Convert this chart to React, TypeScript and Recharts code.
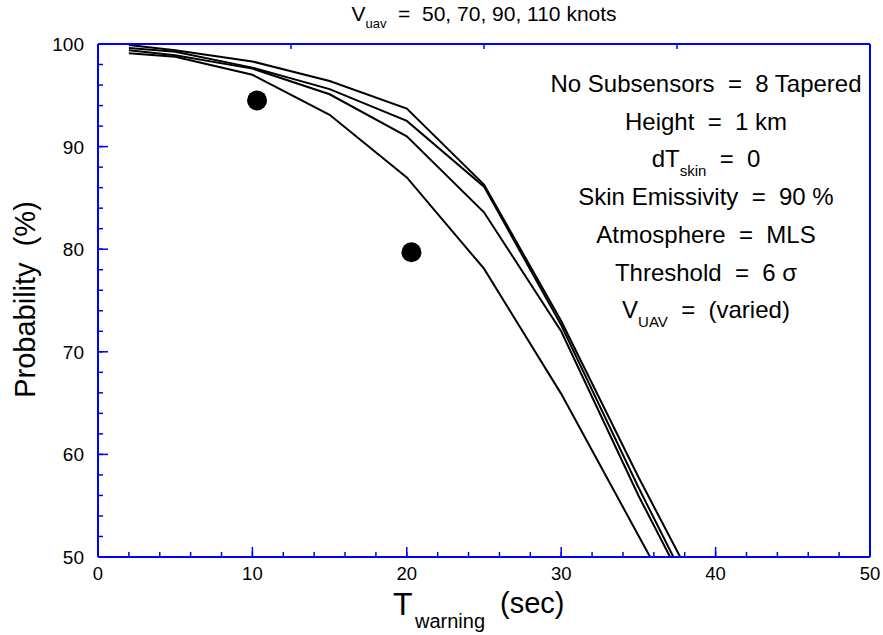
import React from "react"
import { ComposedChart, Line, Scatter, XAxis, YAxis } from "recharts"

// warning time (sec) sampled for each speed curve
const times = [2, 5, 10, 15, 20, 25, 30, 35, 40]
// detection probability (%) for V_uav = 50, 70, 90, 110 knots
const v50 = [99.9, 99.4, 98.3, 96.4, 93.7, 86.3, 73.0, 57.8, 43.4]
const v70 = [99.6, 99.25, 97.7, 95.6, 92.5, 86.1, 72.6, 56.8, 41.8]
const v90 = [99.4, 98.9, 97.6, 95.1, 91.0, 83.6, 72.0, 56.0, 41.4]
const v110 = [99.1, 98.75, 97.0, 93.1, 87.0, 78.1, 65.9, 52.1, 38.3]

// measured points
const dotTimes = [10.3, 20.3]
const dotProb = [94.5, 79.7]

const xTicks = [0, 2, 4, 6, 8, 10, 12, 14, 16, 18, 20, 22, 24, 26, 28, 30, 32, 34, 36, 38, 40, 42, 44, 46, 48, 50]
const yTicks = [50, 52, 54, 56, 58, 60, 62, 64, 66, 68, 70, 72, 74, 76, 78, 80, 82, 84, 86, 88, 90, 92, 94, 96, 98, 100]

const annotations = [
  ["No Subsensors  =  8 Tapered", ""],
  ["Height  =  1 km", ""],
  ["dT", "skin", "  =  0"],
  ["Skin Emissivity  =  90 %", ""],
  ["Atmosphere  =  MLS", ""],
  ["Threshold  =  6 σ", ""],
  ["V", "UAV", "  =  (varied)"],
]

const rows = times.map((t, i) => ({ t, s50: v50[i], s70: v70[i], s90: v90[i], s110: v110[i] }))
const dots = dotTimes.map((t, i) => ({ t, p: dotProb[i] }))

const BLUE = "#0000ff"
const FONT = "'Liberation Sans', Arial, sans-serif"
const tickStyle = { stroke: BLUE, strokeWidth: 1.5 }
const frame = { stroke: BLUE, strokeWidth: 2 }

// built-in tick lines give the short (minor) marks; majors get a longer mark here
const isMajor = (v: number) => v % 10 === 0

const BottomTick = (props: any) => {
  const { x, y, payload } = props
  if (!isMajor(payload.value)) return <g />
  return (
    <g>
      <line x1={x} x2={x} y1={y} y2={y - 10} stroke={BLUE} strokeWidth={1.5} />
      <text x={x} y={y + 23} textAnchor="middle" fontSize={18.5} fontFamily={FONT} fill="#000">
        {payload.value}
      </text>
    </g>
  )
}

const TopTick = (props: any) => {
  const { x, y, payload } = props
  if (!isMajor(payload.value)) return <g />
  return <line x1={x} x2={x} y1={y} y2={y + 10} stroke={BLUE} strokeWidth={1.5} />
}

const LeftTick = (props: any) => {
  const { x, y, payload } = props
  if (!isMajor(payload.value)) return <g />
  return (
    <g>
      <line x1={x} x2={x + 10} y1={y} y2={y} stroke={BLUE} strokeWidth={1.5} />
      <text x={x - 14} y={y + 7} textAnchor="end" fontSize={19} fontFamily={FONT} fill="#000">
        {payload.value}
      </text>
    </g>
  )
}

const RightTick = (props: any) => {
  const { x, y, payload } = props
  if (!isMajor(payload.value)) return <g />
  return <line x1={x} x2={x - 10} y1={y} y2={y} stroke={BLUE} strokeWidth={1.5} />
}

const Dot = (props: any) => <circle cx={props.cx} cy={props.cy} r={10} fill="#000" />

export default function App() {
  const text: React.CSSProperties = { position: "absolute", fontFamily: FONT, color: "#000", whiteSpace: "pre" }
  const sub = (size: number, drop: number): React.CSSProperties => ({ fontSize: size, position: "relative", top: drop })

  return (
    <div style={{ position: "absolute", left: 0, top: 0, width: 883, height: 635, background: "#fff" }}>
      <ComposedChart width={883} height={635} data={rows} margin={{ top: 34, right: 3, bottom: 48, left: 38 }}>
        <XAxis
          dataKey="t"
          type="number"
          domain={[0, 50]}
          ticks={xTicks}
          interval={0}
          height={30}
          tickSize={-5}
          tickMargin={5}
          tickLine={tickStyle}
          axisLine={frame}
          tick={<BottomTick />}
        />
        <XAxis
          xAxisId="top"
          orientation="top"
          type="number"
          domain={[0, 50]}
          ticks={xTicks}
          interval={0}
          height={10}
          tickSize={-5}
          tickMargin={5}
          tickLine={tickStyle}
          axisLine={frame}
          tick={<TopTick />}
        />
        <YAxis
          dataKey="p"
          type="number"
          domain={[50, 100]}
          allowDataOverflow
          ticks={yTicks}
          interval={0}
          width={60}
          tickSize={-5}
          tickMargin={5}
          tickLine={tickStyle}
          axisLine={frame}
          tick={<LeftTick />}
        />
        <YAxis
          yAxisId="right"
          orientation="right"
          type="number"
          domain={[50, 100]}
          ticks={yTicks}
          interval={0}
          width={10}
          tickSize={-5}
          tickMargin={5}
          tickLine={tickStyle}
          axisLine={frame}
          tick={<RightTick />}
        />
        <Line dataKey="s50" type="linear" stroke="#000" strokeWidth={2} dot={false} isAnimationActive={false} />
        <Line dataKey="s70" type="linear" stroke="#000" strokeWidth={2} dot={false} isAnimationActive={false} />
        <Line dataKey="s90" type="linear" stroke="#000" strokeWidth={2} dot={false} isAnimationActive={false} />
        <Line dataKey="s110" type="linear" stroke="#000" strokeWidth={2} dot={false} isAnimationActive={false} />
        <Scatter data={dots} dataKey="p" shape={<Dot />} isAnimationActive={false} />
      </ComposedChart>

      {/* title */}
      <div style={{ ...text, left: 284, width: 400, top: 3, textAlign: "center", fontSize: 21, lineHeight: "21px" }}>
        V<span style={sub(13, 7)}>uav</span>  =  50, 70, 90, 110 knots
      </div>

      {/* parameter block */}
      {annotations.map((a, i) => (
        <div
          key={i}
          style={{ ...text, left: 506, width: 400, top: 72 + i * 37.7, textAlign: "center", fontSize: 24, lineHeight: "24px" }}
        >
          {a[0]}
          {a[1] && <span style={sub(15, 9)}>{a[1]}</span>}
          {a[2]}
        </div>
      ))}

      {/* x axis title */}
      <div style={{ ...text, left: 393, top: 588, fontSize: 32, lineHeight: "32px" }}>T</div>
      <div style={{ ...text, left: 415, top: 611, fontSize: 20, lineHeight: "20px" }}>warning</div>
      <div style={{ ...text, left: 500, top: 589, fontSize: 29, lineHeight: "29px" }}>(sec)</div>

      {/* y axis title */}
      <div
        style={{
          ...text,
          left: 25 - 200,
          width: 400,
          top: 300 - 15,
          textAlign: "center",
          fontSize: 29,
          lineHeight: "29px",
          transform: "rotate(-90deg)",
        }}
      >
        Probability  (%)
      </div>
    </div>
  )
}
